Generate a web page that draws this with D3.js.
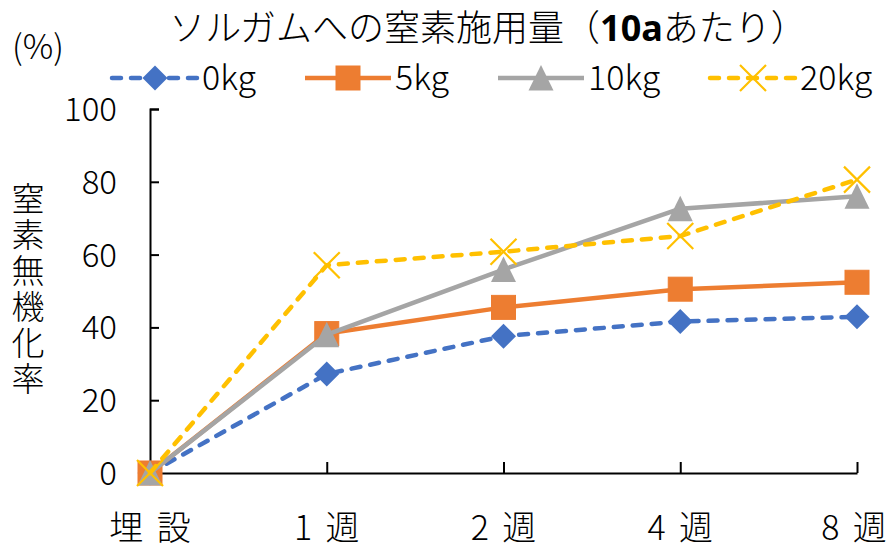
<!DOCTYPE html>
<html>
<head>
<meta charset="utf-8">
<script src="https://cdn.jsdelivr.net/npm/d3@7"></script>
<style>
  body { margin: 0; background: #fff; }
  text { font-family: "Noto Sans CJK JP", "Noto Sans", sans-serif; fill: #000; font-weight: 300; }
</style>
</head>
<body>
<svg id="chart" width="891" height="549"></svg>
<script>
// Timing after burial
const categories = ["埋 設", "1 週", "2 週", "4 週", "8 週"];

// Nitrogen mineralization rate (%) for each fertilizer rate
const seriesNames = ["0kg", "5kg", "10kg", "20kg"];
const values0kg  = [0, 27.2, 37.6, 41.6, 42.9];
const values5kg  = [0, 38.3, 45.5, 50.5, 52.4];
const values10kg = [0, 38.0, 55.9, 72.6, 76.0];
const values20kg = [0, 57.1, 60.8, 65.1, 80.6];

const yTicks = [0, 20, 40, 60, 80, 100];

const titleText = "ソルガムへの窒素施用量（";
const titleBold = "10a";
const titleTail = "あたり）";
const yTitle = "窒素無機化率";
const unitLabel = "(%)";

const colors = ["#4472C4", "#ED7D31", "#A5A5A5", "#FFC000"];
const dashed = [true, false, false, true];
const markers = ["diamond", "square", "triangle", "cross"];
const seriesValues = [values0kg, values5kg, values10kg, values20kg];

const svg = d3.select("#chart");

const x = d3.scalePoint().domain(categories).range([150, 857]).padding(0);
const y = d3.scaleLinear().domain([0, 100]).range([473, 109]);

// Axes: ticks point inward
const yAxis = d3.axisLeft(y).tickValues(yTicks).tickSize(-9).tickFormat(d3.format("d"));
const gy = svg.append("g").attr("transform", `translate(${x(categories[0])},0)`).call(yAxis);
gy.select(".domain").attr("stroke", "#000").attr("stroke-width", 2);
gy.selectAll(".tick line").attr("stroke", "#000").attr("stroke-width", 2);
gy.selectAll(".tick text").attr("font-size", 33).attr("x", -33).attr("dy", "0.35em")
  .style("font-family", "'Noto Sans CJK JP', sans-serif").style("font-weight", 300);

const xAxis = d3.axisBottom(x).tickSize(-11).tickSizeOuter(0);
const gx = svg.append("g").attr("transform", `translate(0,${y(0)})`).call(xAxis);
gx.select(".domain").attr("stroke", "#000").attr("stroke-width", 2);
gx.selectAll(".tick line").attr("stroke", "#000").attr("stroke-width", 2)
  .attr("display", (d, i) => i === 0 ? "none" : null);
gx.selectAll(".tick text").attr("font-size", 34).attr("dy", "0.35em").attr("y", 55)
  .attr("x", (d, i) => i === categories.length - 1 ? -2 : 1)
  .style("font-family", "'Noto Sans CJK JP', sans-serif").style("font-weight", 300)
  .style("letter-spacing", "3px");

// Marker shapes
function drawMarker(g, type, color, cx, cy) {
  if (type === "diamond") {
    g.append("path").attr("d", `M${cx},${cy - 12.5}L${cx + 12.5},${cy}L${cx},${cy + 12.5}L${cx - 12.5},${cy}Z`)
      .attr("fill", color);
  } else if (type === "square") {
    g.append("rect").attr("x", cx - 12).attr("y", cy - 12).attr("width", 24).attr("height", 24)
      .attr("fill", color).attr("stroke", color).attr("stroke-width", 1);
  } else if (type === "triangle") {
    g.append("path").attr("d", `M${cx},${cy - 13}L${cx + 12.5},${cy + 12.5}L${cx - 12.5},${cy + 12.5}Z`)
      .attr("fill", color);
  } else {
    g.append("path").attr("d", `M${cx - 13},${cy - 13}L${cx + 13},${cy + 13}M${cx + 13},${cy - 13}L${cx - 13},${cy + 13}`)
      .attr("stroke", color).attr("stroke-width", 2.2).attr("fill", "none");
  }
}

const line = d3.line().x((d, i) => x(categories[i])).y(d => y(d));

seriesValues.forEach((vals, s) => {
  const g = svg.append("g");
  g.append("path").datum(vals).attr("d", line)
    .attr("fill", "none").attr("stroke", colors[s]).attr("stroke-width", 4.5)
    .attr("stroke-linecap", dashed[s] ? "round" : "butt")
    .attr("stroke-linejoin", "round")
    .attr("stroke-dasharray", dashed[s] ? "9,10" : null);
  vals.forEach((v, i) => drawMarker(g, markers[s], colors[s], x(categories[i]), y(v)));
});

// Title
const title = svg.append("text").attr("x", 488).attr("y", 41).attr("text-anchor", "middle").attr("font-size", 36);
title.append("tspan").text(titleText);
title.append("tspan").attr("font-weight", "bold").style("font-family", "'Noto Sans', sans-serif").text(titleBold);
title.append("tspan").text(titleTail);

// Unit label
svg.append("text").attr("x", 38).attr("y", 59).attr("text-anchor", "middle").attr("font-size", 34).text(unitLabel);

// Vertical axis title
svg.append("text").attr("x", 28).attr("y", 290).attr("text-anchor", "middle")
  .attr("font-size", 33).style("writing-mode", "vertical-rl").style("letter-spacing", "3px").text(yTitle);

// Legend
const legendX = [112, 305, 498, 710];
seriesNames.forEach((name, s) => {
  const g = svg.append("g");
  const x0 = legendX[s], ly = 78;
  g.append("line").attr("x1", x0).attr("x2", x0 + 86).attr("y1", ly).attr("y2", ly)
    .attr("stroke", colors[s]).attr("stroke-width", 4.5)
    .attr("stroke-linecap", dashed[s] ? "round" : "butt")
    .attr("stroke-dasharray", dashed[s] ? "9,10" : null);
  drawMarker(g, markers[s], colors[s], x0 + 43, ly);
  g.append("text").attr("x", x0 + 90).attr("y", ly).attr("dy", "0.35em").attr("font-size", 34).text(name);
});
</script>
</body>
</html>
